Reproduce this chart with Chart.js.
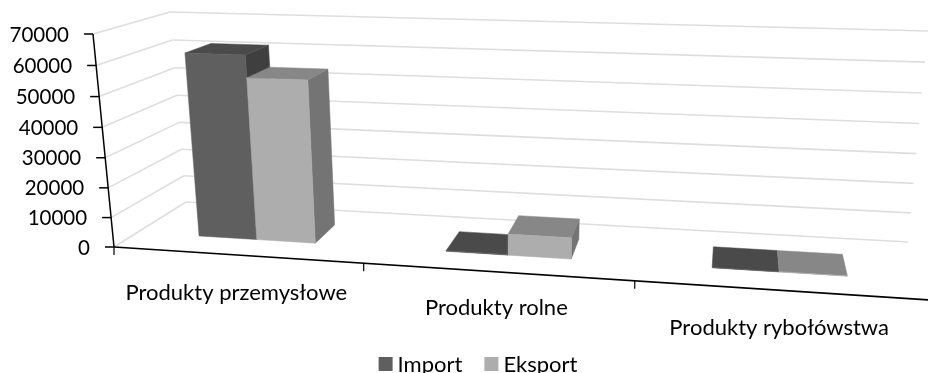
<!DOCTYPE html>
<html>
<head>
<meta charset="utf-8">
<style>
  html, body { margin: 0; background: #fff; }
  canvas { display: block; }
</style>
</head>
<body>
<canvas id="chart" width="928" height="373"></canvas>
<script src="https://cdn.jsdelivr.net/npm/chart.js@4"></script>
<script>
const categories = ['Produkty przemysłowe', 'Produkty rolne', 'Produkty rybołówstwa'];
const importValues = [62000, 200, 100];
const eksportValues = [54500, 7000, 100];
const axisMax = 70000;
const axisStep = 10000;

const FONT = 'Lato, "Open Sans", sans-serif';

// box corners of the 3d plot on screen
const box = {
  frontBottomLeft: [114, 247], frontBottomRight: [930, 300],
  frontTopLeft: [93, 34], frontTopRight: [955, 58],
  backBottomLeft: [186, 202], backBottomRight: [908, 242],
  backTopLeft: [170, 12], backTopRight: [928, 31]
};
const edgePersp = 1.134;    // far side of the floor looks narrower
const innerPersp = 1.12;    // same, inside the floor where the bars stand
const heightPersp = 1.04;
const barFront = 0.33;      // depth of the bars inside the floor, 0 front, 1 back
const barBack = 0.71;

function mix(a, b, t) {
  return [a[0] + (b[0] - a[0]) * t, a[1] + (b[1] - a[1]) * t];
}

// u along the categories, v up the value axis, w into the depth
function project(u, v, w) {
  const k = w > 0 ? innerPersp : edgePersp;
  const f = u / (u + k * (1 - u));
  const h = v / (v + heightPersp * (1 - v));
  const front = mix(
    mix(box.frontBottomLeft, box.frontBottomRight, f),
    mix(box.frontTopLeft, box.frontTopRight, f), h);
  const back = mix(
    mix(box.backBottomLeft, box.backBottomRight, f),
    mix(box.backTopLeft, box.backTopRight, f), h);
  return mix(front, back, w);
}

function poly(ctx, pts, color) {
  ctx.fillStyle = color;
  ctx.strokeStyle = color;
  ctx.lineWidth = 0.5;
  ctx.beginPath();
  pts.forEach((p, i) => i ? ctx.lineTo(p[0], p[1]) : ctx.moveTo(p[0], p[1]));
  ctx.closePath();
  ctx.fill();
  ctx.stroke();
}

function line(ctx, a, b, color, width) {
  ctx.strokeStyle = color;
  ctx.lineWidth = width;
  ctx.beginPath();
  ctx.moveTo(a[0], a[1]);
  ctx.lineTo(b[0], b[1]);
  ctx.stroke();
}

const plot3d = {
  id: 'plot3d',
  beforeDatasetsDraw(chart) {
    const ctx = chart.ctx;
    const area = chart.chartArea;
    const xScale = chart.scales.x;
    const yScale = chart.scales.y;
    const toU = px => (px - area.left) / (area.right - area.left);
    const toV = py => (area.bottom - py) / (area.bottom - area.top);

    ctx.save();
    ctx.lineCap = 'butt';

    // walls
    yScale.ticks.forEach(t => {
      const v = toV(yScale.getPixelForValue(t.value));
      line(ctx, project(0, v, 0), project(0, v, 1), '#dedede', 1.6);
      line(ctx, project(0, v, 1), project(1, v, 1), '#dedede', 1.6);
    });

    // bars, one dataset after the other so the second covers the side of the first
    chart.data.datasets.forEach((ds, di) => {
      chart.getDatasetMeta(di).data.forEach(bar => {
        const u1 = toU(bar.x - bar.width / 2);
        const u2 = toU(bar.x + bar.width / 2);
        const top = toV(bar.y);
        const a = project(u1, 0, barFront), b = project(u2, 0, barFront);
        const c = project(u2, top, barFront), d = project(u1, top, barFront);
        const e = project(u2, 0, barBack), g = project(u2, top, barBack);
        const h = project(u1, top, barBack);
        if (e[0] > b[0]) poly(ctx, [b, e, g, c], ds.sideColor);
        poly(ctx, [d, c, g, h], ds.topColor);
        poly(ctx, [a, b, c, d], ds.backgroundColor);
      });
    });

    // value axis
    line(ctx, project(0, 0, 0), project(0, 1, 0), '#000', 1.5);
    ctx.font = '20.5px ' + FONT;
    ctx.textAlign = 'right';
    ctx.textBaseline = 'middle';
    yScale.ticks.forEach(t => {
      const v = toV(yScale.getPixelForValue(t.value));
      const p = project(0, v, 0);
      line(ctx, [p[0] - 9, p[1]], p, '#000', 1.5);
      ctx.fillStyle = '#000';
      ctx.fillText(String(t.value), p[0] - 24, p[1] + 1);
    });

    // category axis
    line(ctx, project(0, 0, 0), project(1, 0, 0), '#000', 1.6);
    for (let i = 0; i < categories.length; i++) {
      const p = project(i / categories.length, 0, 0);
      line(ctx, p, [p[0], p[1] + 8], '#000', 1.2);
    }
    ctx.font = '22px ' + FONT;
    ctx.textAlign = 'center';
    const labelDrop = [38, 36, 38];
    categories.forEach((name, i) => {
      const p = project(toU(xScale.getPixelForValue(i)), 0, 0);
      ctx.fillStyle = '#000';
      ctx.fillText(name, p[0], p[1] + labelDrop[i]);
    });

    // legend
    ctx.textAlign = 'left';
    const items = chart.data.datasets;
    const total = items.reduce((sum, ds) => sum + 19 + ctx.measureText(ds.label).width, 0) + 22;
    let x = 478 - total / 2;
    items.forEach(ds => {
      ctx.fillStyle = ds.backgroundColor;
      ctx.fillRect(x, 357, 14, 14);
      ctx.fillStyle = '#000';
      ctx.fillText(ds.label, x + 19, 365);
      x += 19 + ctx.measureText(ds.label).width + 22;
    });

    ctx.restore();
    return false;
  }
};

new Chart(document.getElementById('chart'), {
  type: 'bar',
  data: {
    labels: categories,
    datasets: [
      { label: 'Import', data: importValues, backgroundColor: '#5f5f5f', topColor: '#4a4a4a', sideColor: '#3f3f3f' },
      { label: 'Eksport', data: eksportValues, backgroundColor: '#adadad', topColor: '#878787', sideColor: '#747474' }
    ]
  },
  options: {
    responsive: false,
    animation: false,
    layout: { padding: 0 },
    categoryPercentage: 0.48,
    barPercentage: 1,
    plugins: { legend: { display: false }, tooltip: { enabled: false } },
    scales: {
      x: { display: false },
      y: { display: false, min: 0, max: axisMax, ticks: { stepSize: axisStep } }
    }
  },
  plugins: [plot3d]
});
</script>
</body>
</html>
